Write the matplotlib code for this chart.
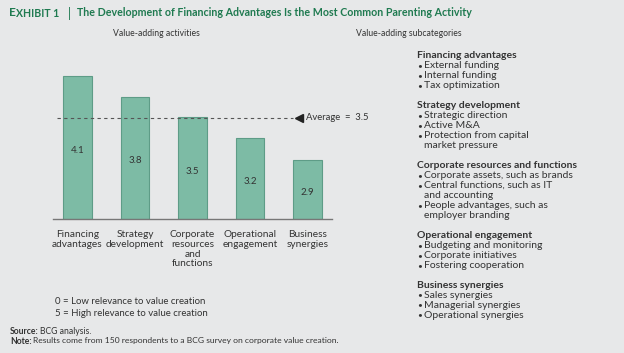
import matplotlib
matplotlib.use("Agg")
import matplotlib.pyplot as plt
from matplotlib import font_manager

categories = ["Financing\nadvantages", "Strategy\ndevelopment", "Corporate\nresources\nand\nfunctions",
              "Operational\nengagement", "Business\nsynergies"]
values = [4.1, 3.8, 3.5, 3.2, 2.9]
average = 3.5

subcategories = [
    ("Financing advantages", ["External funding", "Internal funding", "Tax optimization"]),
    ("Strategy development", ["Strategic direction", "Active M&A", "Protection from capital\nmarket pressure"]),
    ("Corporate resources and functions", ["Corporate assets, such as brands",
                                           "Central functions, such as IT\nand accounting",
                                           "People advantages, such as\nemployer branding"]),
    ("Operational engagement", ["Budgeting and monitoring", "Corporate initiatives", "Fostering cooperation"]),
    ("Business synergies", ["Sales synergies", "Managerial synergies", "Operational synergies"]),
]

BG = "#e7e8e9"
GREEN = "#1f7a50"
TXT = "#333333"
FONT = "Lato"
plt.rcParams['font.family'] = [FONT, 'DejaVu Sans']

names = {f.name for f in font_manager.fontManager.ttflist}
NARROW = "Liberation Sans Narrow" if "Liberation Sans Narrow" in names else FONT
narrow_size = 7.3 if NARROW != FONT else 6.2

W, H = 624, 353
fig = plt.figure(figsize=(6.24, 3.53), dpi=100, facecolor=BG)

def fx(x): return x / W
def fy(y): return 1 - y / H

ymin, ymax = 2.05, 4.4
ax_bottom = 219
ax_top = ax_bottom - (ymax - ymin) * 70
ax = fig.add_axes([fx(53), fy(ax_bottom), fx(332) - fx(53), (ax_bottom - ax_top) / H])
ax.set_facecolor(BG)
xs = list(range(len(values)))
ax.bar(xs, [v - ymin for v in values], bottom=ymin, width=0.5, color="#7dbba5",
       edgecolor="#5e9c87", linewidth=0.8, zorder=2)
ax.set_xlim(-0.426, 4.426)
ax.set_ylim(ymin, ymax)
for s in ["top", "right", "left"]:
    ax.spines[s].set_visible(False)
ax.spines["bottom"].set_color("#777777")
ax.spines["bottom"].set_linewidth(1.0)
ax.set_yticks([])
ax.set_xticks(xs)
ax.set_xticklabels(categories, fontsize=7.3, color=TXT, linespacing=1.1)
ax.tick_params(axis="x", length=0, pad=8)
for x, v in zip(xs, values):
    ax.text(x, (v + ymin) / 2 - 0.04, f"{v}", ha="center", va="center", fontsize=7, color=TXT, zorder=3)

ax.plot([-0.35, 3.75], [average, average], linestyle=(0, (3, 3)), color="#555555", linewidth=0.8, zorder=3)
ax.plot([3.86], [average], marker="<", markersize=6, color="#222222", clip_on=False, zorder=4)
ax.text(3.98, average, f"Average  =  {average}", ha="left", va="center", fontsize=narrow_size + 0.6,
        color=TXT, clip_on=False, family=[NARROW, 'DejaVu Sans'])

# Title
TS = 7.7
fig.text(fx(9), fy(13), "E", fontsize=TS + 0.8, fontweight="bold", color=GREEN, va="center", ha="left")
fig.text(fx(16), fy(13.5), "XHIBIT 1", fontsize=7.6, fontweight="bold", color=GREEN, va="center", ha="left")
fig.text(fx(68), fy(13), "|", fontsize=TS + 1.5, color=GREEN, va="center", ha="left")
fig.text(fx(77), fy(13), "The Development of Financing Advantages Is the Most Common Parenting Activity",
         fontsize=TS, fontweight="bold", color=GREEN, va="center", ha="left")

fig.text(fx(156), fy(34), "Value-adding activities", fontsize=narrow_size, color=TXT, ha="center",
         va="center", family=[NARROW, 'DejaVu Sans'])
fig.text(fx(409), fy(34), "Value-adding subcategories", fontsize=narrow_size, color=TXT, ha="center",
         va="center", family=[NARROW, 'DejaVu Sans'])

y = 56
for head, items in subcategories:
    fig.text(fx(417), fy(y), head, fontsize=7.5, fontweight="bold", color=TXT, ha="left", va="center")
    y += 10
    for it in items:
        lines = it.split("\n")
        fig.text(fx(417), fy(y), "•", fontsize=6, color=TXT, ha="left", va="center")
        for ln in lines:
            fig.text(fx(424), fy(y), ln, fontsize=7.5, color=TXT, ha="left", va="center")
            y += 10
    y += 9.75

fig.text(fx(55), fy(302), "0 = Low relevance to value creation", fontsize=6.9, color=TXT, ha="left", va="center")
fig.text(fx(55), fy(313), "5 = High relevance to value creation", fontsize=6.9, color=TXT, ha="left", va="center")

fig.text(fx(10), fy(331), "Source:", fontsize=6.2, fontweight="bold", color=TXT, ha="left", va="center")
fig.text(fx(40), fy(331), "BCG analysis.", fontsize=6.2, color=TXT, ha="left", va="center")
fig.text(fx(10), fy(341), "Note:", fontsize=6.2, fontweight="bold", color=TXT, ha="left", va="center")
fig.text(fx(33), fy(341), "Results come from 150 respondents to a BCG survey on corporate value creation.",
         fontsize=6.1, color=TXT, ha="left", va="center")

fig.savefig("out.png", dpi=100, facecolor=BG)
